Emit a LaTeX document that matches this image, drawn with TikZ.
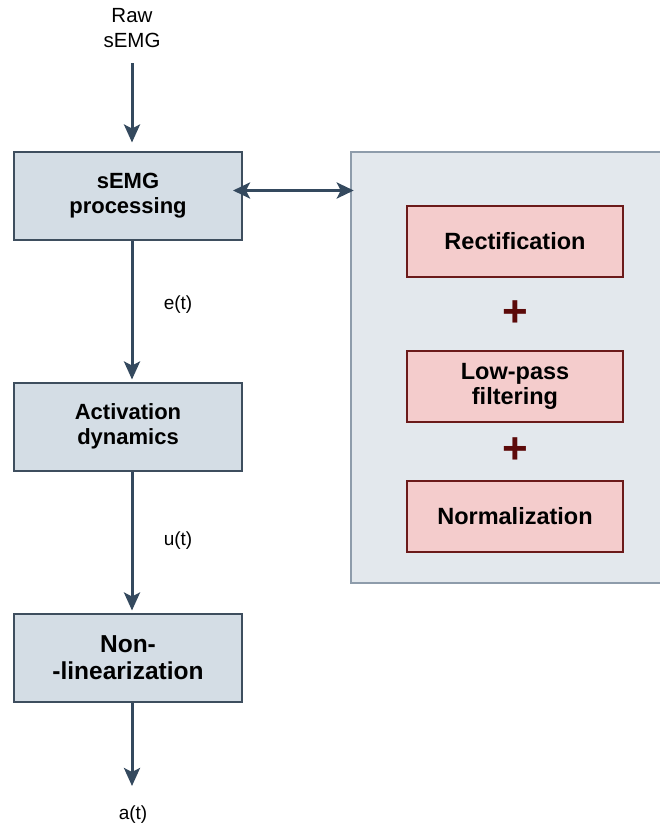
\documentclass[tikz,border=0pt]{standalone}
\usepackage{fontspec}
\setmainfont{Liberation Sans}
\usetikzlibrary{positioning}
\usetikzlibrary{arrows.meta}

\definecolor{boxfill}{HTML}{D4DDE5}
\definecolor{boxline}{HTML}{3E4E5E}
\definecolor{flowcol}{HTML}{34495E}
\definecolor{panelfill}{HTML}{E3E8ED}
\definecolor{panelline}{HTML}{8E9CAB}
\definecolor{redfill}{HTML}{F4CCCC}
\definecolor{redline}{HTML}{6B1A1A}
\definecolor{pluscol}{HTML}{5C0A0A}

\tikzset{
	block/.style={draw=boxline, fill=boxfill, line width=2pt, minimum width=228pt, minimum height=88pt, align=center, font=\fontsize{22}{25}\selectfont\bfseries},
	substep/.style={draw=redline, fill=redfill, line width=2pt, minimum width=216pt, minimum height=71pt, align=center, font=\fontsize{23.5}{25}\selectfont\bfseries},
	panel/.style={draw=panelline, fill=panelfill, line width=2.5pt, minimum width=313pt, minimum height=431pt},
	plus/.style={text=pluscol, font=\fontsize{44}{44}\selectfont\bfseries, inner sep=0pt},
	lbl/.style={align=center, font=\fontsize{19}{25}\selectfont},
	flow/.style={draw=flowcol, line width=3pt, -{Stealth[length=18pt, width=16pt, inset=4pt]}}
}

\begin{document}
\begin{tikzpicture}[x=1pt, y=-1pt]
	\useasboundingbox (0,0) rectangle (660,830);

	\node[lbl, font=\fontsize{20.5}{25}\selectfont] (raw) at (132,28) {Raw\\sEMG};

	\node[block] (proc) at (128,195.5) {sEMG\\processing};
	\node[block] (act) [below=141pt of proc] {Activation\\dynamics};
	\node[block, font=\fontsize{24.5}{27}\selectfont\bfseries] (nonlin) [below=141pt of act] {Non-\\-linearization};

	\node[lbl] (et) at (178,305) {e(t)};
	\node[lbl] (ut) at (178,541) {u(t)};
	\node[lbl] (at) at (133,815) {a(t)};
	\coordinate (out) at (132,786);

	% right panel with the processing steps
	\node[panel] (panel) at (507.5,367.5) {};
	\node[substep] (rect) at (515,241) {Rectification};
	\node[plus] (plusa) at (515,314) {+};
	\node[substep] (lowpass) at (515,386) {Low-pass\\filtering};
	\node[plus] (plusb) at (515,451) {+};
	\node[substep] (norm) at (515,516) {Normalization};

	\path[flow, shorten <=12pt, shorten >=8pt] (raw) -- (raw |- proc.north);
	\path[flow, shorten >=2pt] (raw |- proc.south) -- (raw |- act.north);
	\path[flow, shorten >=2pt] (raw |- act.south) -- (raw |- nonlin.north);
	\path[flow] (raw |- nonlin.south) -- (out);

	\path[draw=flowcol, line width=3pt, {Stealth[length=17pt, width=16pt, inset=4pt]}-{Stealth[length=17pt, width=16pt, inset=4pt]}] ([xshift=-10pt, yshift=5pt]proc.east) -- ([xshift=4pt, yshift=5pt]panel.west |- proc.east);

\end{tikzpicture}
\end{document}
